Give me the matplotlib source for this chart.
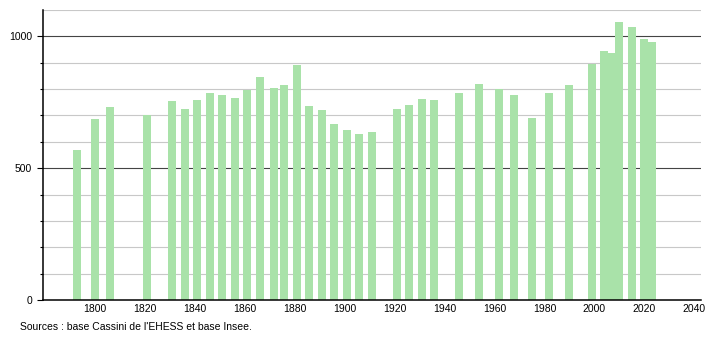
import matplotlib
matplotlib.use("Agg")
import matplotlib.pyplot as plt

plt.rcParams['font.family'] = ['Liberation Sans', 'DejaVu Sans']

# Census years and population
years = [1793, 1800, 1806, 1821, 1831, 1836, 1841, 1846, 1851, 1856,
         1861, 1866, 1872, 1876, 1881, 1886, 1891, 1896, 1901, 1906,
         1911, 1921, 1926, 1931, 1936, 1946, 1954, 1962, 1968, 1975,
         1982, 1990, 1999, 2004, 2007, 2010, 2015, 2020, 2023]
population = [570, 688, 731, 702, 753, 726, 760, 786, 779, 768,
              796, 847, 806, 814, 890, 734, 721, 669, 646, 630,
              639, 726, 741, 763, 757, 787, 821, 802, 778, 691,
              786, 817, 894, 946, 938, 1056, 1037, 989, 977]
xticks = [1800, 1820, 1840, 1860, 1880, 1900, 1920, 1940, 1960, 1980, 2000, 2020, 2040]
yticks = [0, 500, 1000]
source = "Sources : base Cassini de l'EHESS et base Insee."

fig = plt.figure(figsize=(7.1, 3.4), dpi=100)
ax = fig.add_axes([0.0606, 0.1176, 0.9263, 0.853])

# Grid lines every 100, darker at 500 / 1000
for v in range(100, 1200, 100):
    if v % 500 == 0:
        ax.axhline(v, color='#444444', lw=0.8, zorder=1)
    else:
        ax.axhline(v, color='#c8c8c8', lw=0.8, zorder=1)

ax.bar(years, population, width=3.2, color='#a9e2a9', zorder=2)

ax.set_xlim(1779.4, 2042.5)
ax.set_ylim(0, 1100)

ax.set_xticks(xticks)
ax.set_yticks(yticks)
ax.set_yticks(range(0, 1100, 100), minor=True)
ax.tick_params(axis='x', length=0, labelsize=7.5, pad=3)
ax.tick_params(axis='y', which='major', length=4, width=0.8, labelsize=7.5, pad=4)
ax.tick_params(axis='y', which='minor', length=2, width=0.8)

for s in ['top', 'right']:
    ax.spines[s].set_visible(False)
ax.spines['left'].set_linewidth(1.1)
ax.spines['bottom'].set_linewidth(1.1)

fig.text(20 / 710, 1 - 327 / 340, source, fontsize=7.5, va='center', ha='left')

fig.savefig('out.png', dpi=100)
